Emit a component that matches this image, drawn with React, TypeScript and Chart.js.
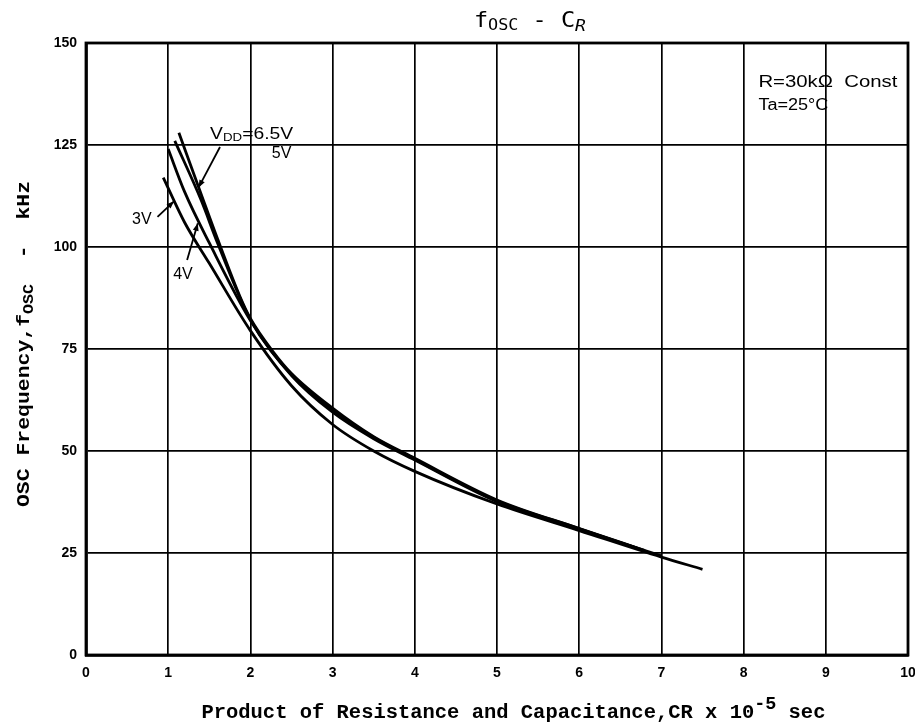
import React, { useEffect, useRef } from 'react';
import { Chart, registerables } from 'chart.js';

Chart.register(...registerables);

// ---- data ----
const crTicks = [0, 1, 2, 3, 4, 5, 6, 7, 8, 9, 10];
const freqTicks = [0, 25, 50, 75, 100, 125, 150];

const cr3V = [0.94, 1.2, 1.5, 2.0, 2.5, 3.0, 3.5, 4.0, 5.0, 6.0, 7.0, 7.5];
const f3V = [117, 106, 96, 79.5, 66, 56.5, 50, 45, 37, 30.5, 24, 21];

const cr4V = [1.0, 1.2, 1.5, 2.0, 2.5, 3.0, 3.5, 4.0, 5.0, 6.0, 7.0];
const f4V = [124, 113.5, 101, 82, 68.5, 59.5, 53, 47.8, 37.6, 30.8, 24.3];

const cr5V = [1.08, 1.4, 1.6, 2.0, 2.5, 3.0, 3.5, 4.0, 5.0, 6.0, 6.8];
const f5V = [126, 111.5, 101, 82.2, 68.7, 60, 53.3, 48, 37.8, 31, 25.6];

const cr65V = [1.13, 1.4, 1.6, 1.87, 2.0, 2.27, 2.5, 3.0, 3.5, 4.0, 5.0, 6.0, 6.7];
const f65V = [128, 113, 102, 88, 82.5, 74.5, 69, 60.5, 53.5, 48.2, 38, 31, 26.2];

const seriesNames = ['3V', '4V', '5V', '6.5V'];

const toPts = (xs: number[], ys: number[]) => xs.map((x, i) => ({ x, y: ys[i] }));

type Seg = { t: string; font: string; dy?: number };

function drawSegs(
  ctx: CanvasRenderingContext2D,
  segs: Seg[],
  x: number,
  y: number,
  align: 'left' | 'center',
  fitWidth?: number
) {
  let w = 0;
  for (const s of segs) {
    ctx.font = s.font;
    w += ctx.measureText(s.t).width;
  }
  const k = fitWidth ? fitWidth / w : 1;
  ctx.save();
  ctx.translate(x, y);
  ctx.scale(k, 1);
  let cx = align === 'center' ? -w / 2 : 0;
  ctx.textAlign = 'left';
  ctx.textBaseline = 'alphabetic';
  for (const s of segs) {
    ctx.font = s.font;
    ctx.fillText(s.t, cx, s.dy || 0);
    cx += ctx.measureText(s.t).width;
  }
  ctx.restore();
}

function arrow(ctx: CanvasRenderingContext2D, x1: number, y1: number, x2: number, y2: number) {
  ctx.beginPath();
  ctx.moveTo(x1, y1);
  ctx.lineTo(x2, y2);
  ctx.lineWidth = 1.8;
  ctx.stroke();
  const ang = Math.atan2(y2 - y1, x2 - x1);
  const L = 8;
  const Wd = 0.38;
  ctx.beginPath();
  ctx.moveTo(x2, y2);
  ctx.lineTo(x2 - L * Math.cos(ang - Wd), y2 - L * Math.sin(ang - Wd));
  ctx.lineTo(x2 - L * Math.cos(ang + Wd), y2 - L * Math.sin(ang + Wd));
  ctx.closePath();
  ctx.fill();
}

const overlay = {
  id: 'overlay',
  beforeDraw(chart: any) {
    const { ctx, width, height } = chart;
    ctx.save();
    ctx.fillStyle = '#fff';
    ctx.fillRect(0, 0, width, height);
    ctx.restore();
  },
  afterDraw(chart: any) {
    const { ctx, chartArea: a } = chart;
    const xs = chart.scales.x;
    const ys = chart.scales.y;
    const px = (v: number) => xs.getPixelForValue(v);
    const py = (v: number) => ys.getPixelForValue(v);
    ctx.save();
    ctx.strokeStyle = '#000';
    ctx.fillStyle = '#000';
    ctx.lineWidth = 2.8;
    ctx.strokeRect(a.left, a.top, a.right - a.left, a.bottom - a.top);

    // title
    const tf = '"DejaVu Sans Mono", monospace';
    drawSegs(
      ctx,
      [
        { t: 'f', font: `21px ${tf}` },
        { t: 'OSC', font: `15px ${tf}`, dy: 3 },
        { t: ' - ', font: `21px ${tf}` },
        { t: 'C', font: `21px ${tf}` },
        { t: 'R', font: `italic 16px ${tf}`, dy: 4 },
      ],
      px(5.4),
      a.top - 16,
      'center',
      112
    );

    // x axis title
    const mf = '"Liberation Mono", "Courier New", monospace';
    drawSegs(
      ctx,
      [
        { t: 'Product of Resistance and Capacitance,CR x 10', font: `bold 20px ${mf}` },
        { t: '-5', font: `bold 18px ${mf}`, dy: -9 },
        { t: ' sec', font: `bold 20px ${mf}` },
      ],
      px(5.2),
      a.bottom + 63,
      'center',
      624
    );

    // y axis title (rotated)
    ctx.save();
    ctx.translate(29, 344);
    ctx.rotate(-Math.PI / 2);
    drawSegs(
      ctx,
      [
        { t: 'OSC Frequency,f', font: `bold 18px ${mf}` },
        { t: 'OSC', font: `bold 14px ${mf}`, dy: 4 },
        { t: '  -  kHz', font: `bold 18px ${mf}` },
      ],
      0,
      0,
      'center',
      326
    );
    ctx.restore();

    // annotations
    const af = '"Liberation Sans", Arial, sans-serif';
    drawSegs(
      ctx,
      [
        { t: 'V', font: `16px ${af}` },
        { t: 'DD', font: `11px ${af}`, dy: 2 },
        { t: '=6.5V', font: `16px ${af}` },
      ],
      px(1.51),
      py(126.5),
      'left',
      83
    );
    drawSegs(ctx, [{ t: '5V', font: `16px ${af}` }], px(2.26), py(121.8), 'left');
    drawSegs(ctx, [{ t: '3V', font: `16px ${af}` }], px(0.56), py(105.6), 'left');
    drawSegs(ctx, [{ t: '4V', font: `16px ${af}` }], px(1.06), py(92.2), 'left');
    drawSegs(ctx, [{ t: 'R=30kΩ  Const', font: `16px ${af}` }], px(8.18), py(139.2), 'left', 139);
    drawSegs(ctx, [{ t: 'Ta=25°C', font: `16px ${af}` }], px(8.18), py(133.5), 'left', 70);

    arrow(ctx, px(1.63), py(124.5), px(1.37), py(114.6));
    arrow(ctx, px(0.87), py(107.4), px(1.07), py(111.2));
    arrow(ctx, px(1.23), py(96.8), px(1.36), py(105.8));

    ctx.restore();
  },
};

export default function App() {
  const ref = useRef<HTMLCanvasElement>(null);
  useEffect(() => {
    document.body.style.margin = '0';
    const canvas = ref.current!;
    const lineDs = (label: string, xs: number[], ys: number[]) => ({
      label,
      data: toPts(xs, ys),
      showLine: true,
      borderColor: '#000',
      backgroundColor: '#000',
      borderWidth: 2.8,
      pointRadius: 0,
      cubicInterpolationMode: 'monotone' as const,
      fill: false,
    });
    const chart = new Chart(canvas, {
      type: 'scatter',
      data: {
        datasets: [
          lineDs(seriesNames[0], cr3V, f3V),
          lineDs(seriesNames[1], cr4V, f4V),
          lineDs(seriesNames[2], cr5V, f5V),
          lineDs(seriesNames[3], cr65V, f65V),
        ],
      },
      options: {
        animation: false,
        responsive: false,
        devicePixelRatio: 1,
        layout: { padding: { left: 0, right: 7, top: 43, bottom: 0 } },
        plugins: {
          legend: { display: false },
          tooltip: { enabled: false },
          title: { display: false },
        },
        scales: {
          x: {
            type: 'linear',
            min: crTicks[0],
            max: crTicks[crTicks.length - 1],
            afterBuildTicks: (s: any) => {
              s.ticks = crTicks.map((v) => ({ value: v }));
            },
            afterFit: (s: any) => {
              s.height = 71;
              s.paddingLeft = 0;
              s.paddingRight = 0;
            },
            ticks: {
              color: '#000',
              padding: 10,
              font: { family: '"Liberation Sans", Arial, sans-serif', size: 14, weight: 'bold' },
            },
            grid: { color: '#000', lineWidth: 1.7, drawTicks: false },
            border: { display: true, color: '#000', width: 2.8 },
          },
          y: {
            type: 'linear',
            min: freqTicks[0],
            max: freqTicks[freqTicks.length - 1],
            afterBuildTicks: (s: any) => {
              s.ticks = freqTicks.map((v) => ({ value: v }));
            },
            afterFit: (s: any) => {
              s.width = 86;
              s.paddingTop = 0;
              s.paddingBottom = 0;
            },
            ticks: {
              color: '#000',
              padding: 9,
              font: { family: '"Liberation Sans", Arial, sans-serif', size: 14, weight: 'bold' },
            },
            grid: { color: '#000', lineWidth: 1.7, drawTicks: false },
            border: { display: true, color: '#000', width: 2.8 },
          },
        },
      },
      plugins: [overlay],
    });
    return () => chart.destroy();
  }, []);
  return (
    <div style={{ position: 'absolute', left: 0, top: 0, width: 915, height: 726, background: '#fff' }}>
      <canvas ref={ref} width={915} height={726} style={{ display: 'block', width: 915, height: 726 }} />
    </div>
  );
}
